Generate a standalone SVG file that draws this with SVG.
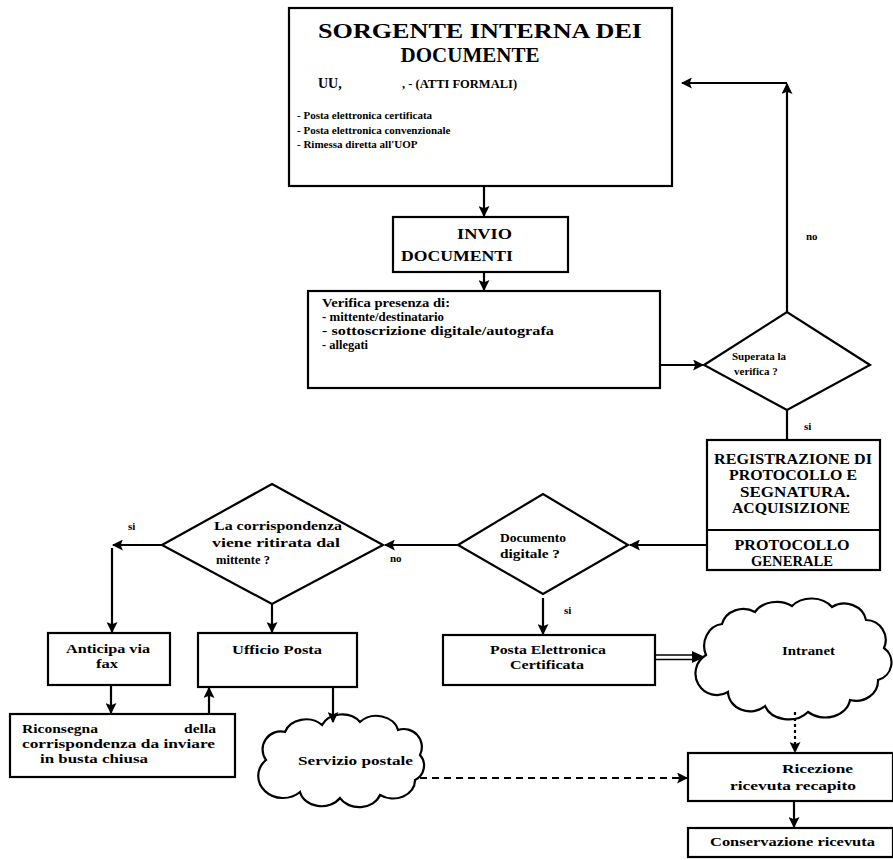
<svg xmlns="http://www.w3.org/2000/svg" width="893" height="860" viewBox="0 0 893 860">
<style>
.box{fill:#fff;stroke:#000;stroke-width:2.2}
.ln{fill:none;stroke:#000;stroke-width:2.2}
.t{font-family:"Liberation Serif","Times New Roman",serif;font-weight:bold;fill:#000}
.s11{font-size:11px}
.s12{font-size:12.5px}
.s14{font-size:14px}
.s22{font-size:21px}
.c{text-anchor:middle}
</style>
<defs>
<marker id="ah" viewBox="0 0 10 10" refX="9" refY="5" markerWidth="5" markerHeight="5" orient="auto" markerUnits="strokeWidth">
<path d="M0,0 L10,5 L0,10 L2,5 Z" fill="#000"/>
</marker>
</defs>
<rect width="893" height="860" fill="#fff"/>

<g id="sorgente">
<rect class="box" x="289" y="8" width="383" height="178"/>
<text class="t s22" x="318" y="38" textLength="324" lengthAdjust="spacingAndGlyphs">SORGENTE INTERNA DEI</text>
<text class="t s22 c" x="470" y="62">DOCUMENTE</text>
<text class="t s14" x="318" y="88">UU,</text>
<text class="t s12" x="402" y="88">, - (ATTI FORMALI)</text>
<text class="t s11" x="297" y="119">- Posta elettronica certificata</text>
<text class="t s11" x="297" y="134">- Posta elettronica convenzionale</text>
<text class="t s11" x="297" y="148">- Rimessa diretta all'UOP</text>
</g>

<g id="invio">
<rect class="box" x="393" y="217" width="175" height="55"/>
<text class="t s14" x="457" y="239" textLength="55" lengthAdjust="spacingAndGlyphs">INVIO</text>
<text class="t s14" x="401" y="261" textLength="112" lengthAdjust="spacingAndGlyphs">DOCUMENTI</text>
</g>

<g id="verifica">
<rect class="box" x="308" y="291" width="352" height="97"/>
<text class="t s12" x="322" y="307" textLength="128" lengthAdjust="spacingAndGlyphs">Verifica presenza di:</text>
<text class="t s12" x="322" y="321" textLength="122" lengthAdjust="spacingAndGlyphs">- mittente/destinatario</text>
<text class="t s12" x="322" y="335" textLength="232" lengthAdjust="spacingAndGlyphs">- sottoscrizione digitale/autografa</text>
<text class="t s12" x="322" y="349" textLength="46" lengthAdjust="spacingAndGlyphs">- allegati</text>
</g>

<g id="superata">
<polygon class="box" points="704,365 787,312 870,365 787,410"/>
<text class="t s11" x="732" y="360">Superata la</text>
<text class="t s11" x="734" y="375">verifica ?</text>
</g>

<g id="registrazione">
<rect class="box" x="707" y="440" width="173" height="130"/>
<line class="ln" x1="707" y1="530" x2="880" y2="530"/>
<text class="t s14 c" x="793" y="464" textLength="158" lengthAdjust="spacingAndGlyphs">REGISTRAZIONE DI</text>
<text class="t s14 c" x="793" y="480" textLength="128" lengthAdjust="spacingAndGlyphs">PROTOCOLLO E</text>
<text class="t s14 c" x="795" y="497" textLength="110" lengthAdjust="spacingAndGlyphs">SEGNATURA.</text>
<text class="t s14 c" x="791" y="513" textLength="118" lengthAdjust="spacingAndGlyphs">ACQUISIZIONE</text>
<text class="t s14 c" x="792" y="550" textLength="115" lengthAdjust="spacingAndGlyphs">PROTOCOLLO</text>
<text class="t s14 c" x="792" y="566" textLength="82" lengthAdjust="spacingAndGlyphs">GENERALE</text>
</g>

<g id="documento">
<polygon class="box" points="458,545 543,494 628,545 543,594"/>
<text class="t s12" x="500" y="542" textLength="66" lengthAdjust="spacingAndGlyphs">Documento</text>
<text class="t s12" x="500" y="558" textLength="60" lengthAdjust="spacingAndGlyphs">digitale ?</text>
</g>

<g id="corrispondenza">
<polygon class="box" points="162,545 272,484 383,545 272,604"/>
<text class="t s12" x="214" y="530" textLength="128" lengthAdjust="spacingAndGlyphs">La corrispondenza</text>
<text class="t s12" x="212" y="547" textLength="128" lengthAdjust="spacingAndGlyphs">viene ritirata dal</text>
<text class="t s12" x="216" y="564" textLength="54" lengthAdjust="spacingAndGlyphs">mittente ?</text>
</g>

<g id="anticipa">
<rect class="box" x="48" y="633" width="122" height="52"/>
<text class="t s12" x="66" y="653" textLength="84" lengthAdjust="spacingAndGlyphs">Anticipa via</text>
<text class="t s12" x="96" y="668" textLength="22" lengthAdjust="spacingAndGlyphs">fax</text>
</g>

<g id="ufficio">
<rect class="box" x="198" y="633" width="159" height="54"/>
<text class="t s12" x="232" y="654" textLength="90" lengthAdjust="spacingAndGlyphs">Ufficio Posta</text>
</g>

<g id="riconsegna">
<rect class="box" x="10" y="714" width="225" height="63"/>
<text class="t s12" x="22" y="733" textLength="76" lengthAdjust="spacingAndGlyphs">Riconsegna</text>
<text class="t s12" x="184" y="733" textLength="32" lengthAdjust="spacingAndGlyphs">della</text>
<text class="t s12" x="22" y="748" textLength="193" lengthAdjust="spacingAndGlyphs">corrispondenza da inviare</text>
<text class="t s12" x="40" y="763" textLength="108" lengthAdjust="spacingAndGlyphs">in busta chiusa</text>
</g>

<g id="posta-elettronica">
<rect class="box" x="443" y="635" width="212" height="50"/>
<text class="t s12" x="490" y="654" textLength="116" lengthAdjust="spacingAndGlyphs">Posta Elettronica</text>
<text class="t s12" x="510" y="669" textLength="74" lengthAdjust="spacingAndGlyphs">Certificata</text>
</g>

<g id="intranet">
<path class="box" d="M706,655 A20,22 0 0 1 722,624 A22,20 0 0 1 755,612 A25,20 0 0 1 792,606 A25,20 0 0 1 832,607 A22,20 0 0 1 866,620 A20,20 0 0 1 884,648 A18,18 0 0 1 878,680 A22,20 0 0 1 850,700 A25,20 0 0 1 808,712 A25,20 0 0 1 765,706 A22,20 0 0 1 728,692 A18,18 0 0 1 706,655 Z"/>
<text class="t s12" x="782" y="655" textLength="53" lengthAdjust="spacingAndGlyphs">Intranet</text>
</g>

<g id="servizio">
<path class="box" d="M266,760 A18,18 0 0 1 285,732 A22,18 0 0 1 322,725 A22,18 0 0 1 360,722 A22,18 0 0 1 398,730 A18,18 0 0 1 420,755 A16,16 0 0 1 415,780 A22,18 0 0 1 380,795 A22,18 0 0 1 340,798 A22,18 0 0 1 300,792 A18,16 0 0 1 266,760 Z"/>
<text class="t s12" x="298" y="765" textLength="115" lengthAdjust="spacingAndGlyphs">Servizio postale</text>
</g>

<g id="ricezione">
<rect class="box" x="688" y="753" width="205" height="48"/>
<text class="t s12" x="782" y="773" textLength="71" lengthAdjust="spacingAndGlyphs">Ricezione</text>
<text class="t s12" x="730" y="790" textLength="126" lengthAdjust="spacingAndGlyphs">ricevuta recapito</text>
</g>

<g id="conservazione">
<rect class="box" x="688" y="828" width="205" height="29"/>
<text class="t s12" x="710" y="846" textLength="165" lengthAdjust="spacingAndGlyphs">Conservazione ricevuta</text>
</g>

<g id="connectors">
<line class="ln" x1="484" y1="186" x2="484" y2="216" marker-end="url(#ah)"/>
<line class="ln" x1="484" y1="272" x2="484" y2="290" marker-end="url(#ah)"/>
<line class="ln" x1="660" y1="365" x2="703" y2="365" marker-end="url(#ah)"/>
<line class="ln" x1="787" y1="312" x2="787" y2="84" marker-end="url(#ah)"/>
<line class="ln" x1="787" y1="83" x2="682" y2="83" marker-end="url(#ah)"/>
<line class="ln" x1="787" y1="410" x2="787" y2="440"/>
<line class="ln" x1="707" y1="545" x2="630" y2="545" marker-end="url(#ah)"/>
<line class="ln" x1="458" y1="545" x2="385" y2="545" marker-end="url(#ah)"/>
<line class="ln" x1="162" y1="545" x2="113" y2="545" marker-end="url(#ah)"/>
<line class="ln" x1="112" y1="548" x2="112" y2="632" marker-end="url(#ah)"/>
<line class="ln" x1="272" y1="604" x2="272" y2="632" marker-end="url(#ah)"/>
<line class="ln" x1="543" y1="598" x2="543" y2="634" marker-end="url(#ah)"/>
<line class="ln" x1="111" y1="685" x2="111" y2="713" marker-end="url(#ah)"/>
<line class="ln" x1="209" y1="714" x2="209" y2="688" marker-end="url(#ah)"/>
<line class="ln" x1="333" y1="687" x2="333" y2="722" marker-end="url(#ah)"/>
<line x1="655" y1="655" x2="694" y2="655" stroke="#000" stroke-width="1.3"/>
<line x1="655" y1="659.5" x2="694" y2="659.5" stroke="#000" stroke-width="1.3"/>
<path d="M692,651 L705,657 L692,663 Z" fill="#000"/>
<line class="ln" x1="795" y1="712" x2="795" y2="752" stroke-dasharray="3,3" marker-end="url(#ah)"/>
<line class="ln" x1="420" y1="778" x2="687" y2="778" stroke-dasharray="7,5" stroke-width="1.8" marker-end="url(#ah)"/>
<line class="ln" x1="794" y1="801" x2="794" y2="827" marker-end="url(#ah)"/>
<text class="t s11" x="806" y="240">no</text>
<text class="t s11" x="804" y="430">si</text>
<text class="t s11" x="390" y="562">no</text>
<text class="t s11" x="128" y="530">si</text>
<text class="t s11" x="564" y="614">si</text>
</g>
</svg>
